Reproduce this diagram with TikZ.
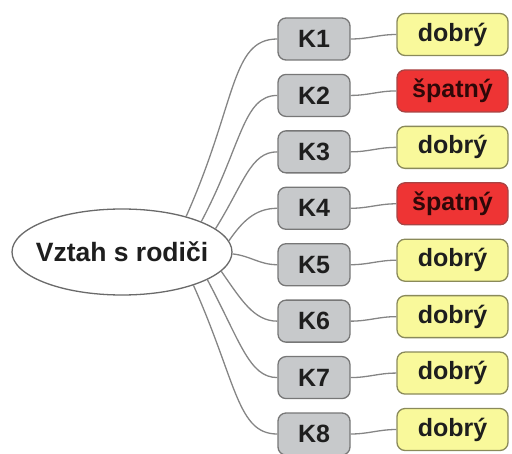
\documentclass[tikz,border=0pt]{standalone}
\usepackage{fontspec}
\setmainfont{Liberation Sans}
\usetikzlibrary{shapes.geometric}

\definecolor{kfill}{HTML}{C7C9CB}
\definecolor{kborder}{HTML}{777777}
\definecolor{goodfill}{HTML}{F9F99B}
\definecolor{goodborder}{HTML}{8A8A5A}
\definecolor{badfill}{HTML}{EE3434}
\definecolor{badborder}{HTML}{A84444}
\definecolor{badtext}{HTML}{2E0808}
\definecolor{linkgray}{HTML}{858585}
\definecolor{ellborder}{HTML}{6A6A6A}
\definecolor{ink}{HTML}{1E1E1E}

\tikzset{
  boxbase/.style={rectangle, rounded corners=8pt, line width=1.3pt,
    minimum height=42pt, inner sep=0pt, text=ink,
    font=\fontsize{25}{30}\selectfont\bfseries},
  kbox/.style={boxbase, draw=kborder, fill=kfill, minimum width=72pt},
  good/.style={boxbase, draw=goodborder, fill=goodfill, minimum width=111pt},
  bad/.style={boxbase, draw=badborder, fill=badfill, minimum width=111pt, text=badtext},
  rootnode/.style={ellipse, draw=ellborder, fill=white, line width=1.3pt,
    minimum width=220pt, minimum height=86pt, inner sep=0pt, text=ink,
    font=\fontsize{26.5}{30}\selectfont\bfseries},
  link/.style={draw=linkgray, line width=1.3pt}
}

\begin{document}
\begin{tikzpicture}[x=1pt, y=-1pt]
\useasboundingbox (0,0) rectangle (512,454);

% central topic
\node[rootnode] (root) at (122,252) {\makebox[0pt]{Vztah s rodiči}};

% one row per K: box, result, and the two connectors
% fields: index / style / result text / start angle on the ellipse /
%         leaving angle / out looseness / in looseness
\foreach \i/\st/\txt/\a/\o/\ol/\il in {
  1/good/dobrý/29/66/1.6/0.6,
  2/bad/špatný/21/62/1.5/0.6,
  3/good/dobrý/14/58/1.4/0.7,
  4/bad/špatný/6/55/1/1,
  5/good/dobrý/-1/-6/1/1,
  6/good/dobrý/-11/-55/1.2/0.8,
  7/good/dobrý/-18/-62/1.5/0.6,
  8/good/dobrý/-25/-66/1.6/0.6} {
  \pgfmathsetmacro\yy{39+56.43*(\i-1)}
  \node[kbox] (k\i) at (314,\yy) {K\i};
  \node[\st] (r\i) at (452.5,\yy-4.5) {\txt};
  \draw[link] (root.\a) to[out=\o, in=180, out looseness=\ol, in looseness=\il] (k\i.west);
  \draw[link] (k\i.east) to[out=0, in=180] (r\i.west);
}
\end{tikzpicture}
\end{document}
